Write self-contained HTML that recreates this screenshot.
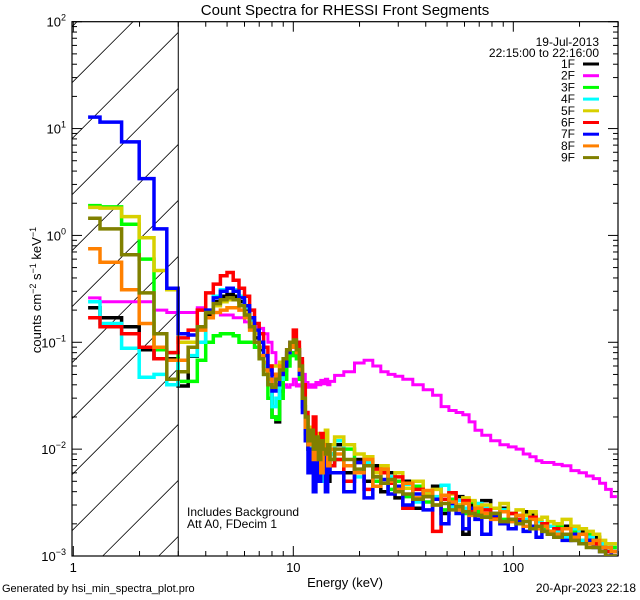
<!DOCTYPE html>
<html><head><meta charset="utf-8"><style>
html,body{margin:0;padding:0;background:#fff;width:640px;height:600px;overflow:hidden}
svg{display:block;font-family:"Liberation Sans",sans-serif}
</style></head><body>
<svg id="chart" width="640" height="600" viewBox="0 0 640 600">
<text x="345" y="15" font-size="15" text-anchor="middle">Count Spectra for RHESSI Front Segments</text>
<g id="hatch"></g>
<g id="axes"></g>
<g id="series"></g>
<g id="legend"></g>
<text x="599" y="46" font-size="12" text-anchor="end">19-Jul-2013</text>
<text x="599" y="57" font-size="12" text-anchor="end">22:15:00 to 22:16:00</text>
<text x="187" y="516" font-size="12">Includes Background</text>
<text x="187" y="528" font-size="12">Att A0, FDecim 1</text>
<text x="345" y="587" font-size="13" text-anchor="middle">Energy (keV)</text>
<text transform="translate(41,290) rotate(-90)" font-size="13" text-anchor="middle">counts cm<tspan font-size="9" dy="-5">−2</tspan><tspan dy="5"> s</tspan><tspan font-size="9" dy="-5">−1</tspan><tspan dy="5"> keV</tspan><tspan font-size="9" dy="-5">−1</tspan></text>
<text x="2" y="592" font-size="11">Generated by hsi_min_spectra_plot.pro</text>
<text x="636" y="592" font-size="12" text-anchor="end">20-Apr-2023 22:18</text>
</svg>
<script>
const energies=[1.167,1.5,1.833,2.167,2.5,2.833,3.167,3.5,3.833,4.167,4.5,4.833,5.167,5.5,5.833,6.167,6.5,6.833,7.167,7.5,7.833,8.167,8.5,8.833,9.167,9.5,9.833,10.17,10.5,10.83,11.17,11.5,11.83,12.17,12.5,12.83,13.17,13.5,13.83,14.17,14.5,14.83,
16,18,20,22,24,26,28,30,33,37,41,45,49,53,57,61,65,69,75,83,91,99,107,115,123,131,139,147,159,175,191,207,223,239,255,271,287];
const seriesNames=["1F","2F","3F","4F","5F","6F","7F","8F","9F"];
const s1F=[0.21,0.17,0.14,0.085,0.07,0.07,
0.039,0.074,0.1,0.18,0.24,0.27,0.28,0.27,0.24,0.2,0.15,0.11,0.085,0.06,0.04,0.02,0.018,0.035,0.055,0.075,0.09,0.1,0.085,0.05,0.025,0.014,0.01,0.012,0.007,0.009,0.013,0.006,0.008,0.011,0.005,0.007,
0.011,0.006,0.008,0.005,0.007,0.004,0.006,0.0035,0.005,0.0028,0.004,0.0045,0.0025,0.0034,0.0036,0.0016,0.003,0.0024,0.0033,0.0025,0.0028,0.0022,0.0021,0.0026,0.0024,0.0018,0.002,0.0017,0.0016,0.0019,0.0014,0.0017,0.0013,0.0015,0.0012,0.0011,0.001];
const s2F=[0.26,0.24,0.24,0.24,0.2,0.19,
0.19,0.19,0.21,0.2,0.19,0.18,0.18,0.17,0.17,0.155,0.15,0.14,0.135,0.12,0.1,0.08,0.06,0.05,0.04,0.038,0.04,0.045,0.039,0.04,0.05,0.042,0.038,0.04,0.038,0.042,0.04,0.044,0.041,0.045,0.04,0.043,
0.049,0.053,0.064,0.068,0.06,0.053,0.05,0.048,0.045,0.04,0.036,0.032,0.025,0.023,0.022,0.021,0.018,0.015,0.0135,0.012,0.011,0.0105,0.01,0.009,0.0085,0.0078,0.0075,0.0075,0.0072,0.007,0.0063,0.006,0.0056,0.0053,0.0048,0.0042,0.0036];
const s3F=[1.9,1.85,1.27,0.6,0.085,0.08,
0.043,0.043,0.068,0.1,0.115,0.12,0.12,0.115,0.1,0.1,0.1,0.09,0.07,0.05,0.03,0.02,0.019,0.03,0.045,0.06,0.075,0.08,0.07,0.045,0.025,0.014,0.01,0.012,0.008,0.011,0.009,0.007,0.01,0.008,0.006,0.009,
0.008,0.01,0.006,0.0075,0.005,0.0065,0.0042,0.005,0.0036,0.0045,0.0032,0.0035,0.0027,0.0034,0.003,0.0025,0.0032,0.0026,0.0024,0.0028,0.0022,0.0025,0.002,0.0024,0.0019,0.0021,0.0018,0.0017,0.0019,0.0015,0.0017,0.0014,0.0016,0.0013,0.0012,0.0011,0.0012];
const s4F=[0.24,0.15,0.088,0.047,0.05,0.04,
0.068,0.075,0.1,0.2,0.27,0.31,0.32,0.31,0.27,0.21,0.16,0.12,0.09,0.06,0.04,0.025,0.03,0.045,0.06,0.08,0.09,0.095,0.08,0.05,0.025,0.015,0.012,0.008,0.014,0.007,0.01,0.005,0.012,0.008,0.006,0.009,
0.012,0.007,0.0055,0.0075,0.0045,0.006,0.0055,0.004,0.0047,0.0032,0.004,0.0036,0.0046,0.0029,0.0033,0.0028,0.0025,0.0031,0.0028,0.0023,0.0027,0.0021,0.0024,0.0022,0.0019,0.0021,0.0017,0.0019,0.0017,0.0015,0.0018,0.0014,0.0015,0.0013,0.0013,0.0012,0.0011];
const s5F=[1.83,1.8,1.5,0.95,0.47,0.31,
0.1,0.1,0.14,0.19,0.22,0.24,0.25,0.25,0.22,0.19,0.15,0.12,0.09,0.065,0.05,0.06,0.06,0.065,0.07,0.08,0.095,0.1,0.09,0.065,0.04,0.02,0.015,0.016,0.009,0.014,0.01,0.012,0.007,0.015,0.009,0.011,
0.013,0.011,0.009,0.0085,0.006,0.007,0.0052,0.006,0.0043,0.005,0.0038,0.0042,0.0034,0.0038,0.003,0.0035,0.0033,0.0029,0.003,0.0028,0.0031,0.0025,0.0027,0.0024,0.0026,0.0022,0.0023,0.0021,0.002,0.0022,0.0019,0.0018,0.0017,0.0016,0.0014,0.0013,0.0013];
const s6F=[0.17,0.14,0.12,0.09,0.07,0.08,
0.11,0.13,0.2,0.29,0.35,0.42,0.45,0.38,0.32,0.27,0.2,0.15,0.12,0.09,0.06,0.05,0.045,0.05,0.06,0.085,0.1,0.13,0.1,0.07,0.04,0.022,0.015,0.012,0.02,0.01,0.008,0.014,0.009,0.006,0.01,0.007,
0.008,0.005,0.0075,0.0042,0.0065,0.006,0.0048,0.0055,0.0028,0.0042,0.0036,0.0017,0.0034,0.0039,0.0028,0.0033,0.0026,0.0024,0.0027,0.0023,0.0021,0.0025,0.0022,0.0019,0.0023,0.0018,0.002,0.0016,0.0018,0.0016,0.0015,0.0016,0.0014,0.0013,0.0012,0.0011,0.0011];
const s7F=[12.8,11.5,7.5,3.4,1.15,0.32,
0.12,0.117,0.14,0.2,0.26,0.3,0.32,0.3,0.26,0.22,0.17,0.13,0.1,0.075,0.055,0.035,0.04,0.05,0.06,0.08,0.1,0.1,0.08,0.05,0.022,0.012,0.006,0.01,0.004,0.012,0.005,0.008,0.01,0.004,0.007,0.006,
0.006,0.004,0.0075,0.0035,0.0055,0.0052,0.0038,0.0045,0.003,0.0038,0.0027,0.0034,0.002,0.0031,0.0025,0.0018,0.0028,0.0022,0.0016,0.0024,0.002,0.0018,0.0021,0.0017,0.0019,0.0015,0.0017,0.0016,0.0015,0.0014,0.0016,0.0013,0.0014,0.0012,0.0011,0.001,0.0011];
const s8F=[0.75,0.56,0.31,0.15,0.09,0.068,
0.068,0.09,0.13,0.17,0.19,0.2,0.21,0.21,0.2,0.17,0.13,0.1,0.075,0.055,0.045,0.04,0.05,0.06,0.07,0.085,0.095,0.09,0.08,0.055,0.03,0.016,0.011,0.014,0.008,0.012,0.01,0.006,0.011,0.009,0.007,0.01,
0.009,0.007,0.006,0.008,0.0045,0.0065,0.005,0.0042,0.0048,0.0035,0.0041,0.003,0.0037,0.0032,0.0027,0.0031,0.0024,0.0028,0.0025,0.0022,0.0026,0.0021,0.0024,0.0019,0.0022,0.0018,0.0019,0.0017,0.0016,0.0018,0.0015,0.0016,0.0013,0.0014,0.0012,0.0012,0.0011];
const s9F=[1.45,1.15,0.66,0.29,0.12,0.045,
0.053,0.09,0.14,0.19,0.23,0.25,0.26,0.25,0.22,0.18,0.14,0.1,0.07,0.05,0.04,0.038,0.045,0.055,0.07,0.085,0.1,0.105,0.085,0.06,0.03,0.02,0.012,0.015,0.01,0.013,0.008,0.012,0.01,0.009,0.011,0.008,
0.01,0.008,0.0065,0.007,0.0055,0.0048,0.0052,0.004,0.0038,0.0034,0.0036,0.003,0.0031,0.0027,0.0029,0.0026,0.0025,0.0024,0.0023,0.0025,0.0021,0.0022,0.002,0.0021,0.0018,0.0019,0.0017,0.0016,0.0015,0.0016,0.0014,0.0013,0.0012,0.0012,0.0011,0.001,0.001];
const seriesValues=[s1F,s2F,s3F,s4F,s5F,s6F,s7F,s8F,s9F];
const seriesColors=["#000000","#ff00ff","#00ff00","#00ffff","#d8d000","#ff0000","#0000ff","#ff8000","#808000"];
const xTickLabels=["1","10","100"];
const xTickValues=[1,10,100];
const yTickExps=[2,1,0,-1,-2,-3];
const thresholdEnergy=3;

const NS="http://www.w3.org/2000/svg";
const L=72,R=618,T=21.7,B=556;
const X0=293.3,XD=220,YD=(B-T)/5;
function xs(e){return X0+XD*(Math.log10(e)-1);}
function ys(v){return T+YD*(2-Math.log10(v));}
function mk(tag,attrs,parent){const el=document.createElementNS(NS,tag);for(const k in attrs)el.setAttribute(k,attrs[k]);parent.appendChild(el);return el;}

const svg=document.getElementById('chart');
const defs=mk('defs',{},svg);
const cp=mk('clipPath',{id:'plotclip'},defs);
mk('rect',{x:L,y:T,width:R-L,height:B-T},cp);

const hatch=document.getElementById('hatch');
const XT=xs(thresholdEnergy);
for(let c=250.7-56*6;c<B+(XT-L);c+=56){
  // line: y = c - (x - L), clipped to [L,XT] x [T,B]
  let x1=L,y1=c;
  if(y1>B){x1=L+(c-B);y1=B;}
  let x2=XT,y2=c-(XT-L);
  if(y2<T){x2=L+(c-T);y2=T;}
  if(x2<=x1)continue;
  const ln=mk('line',{x1:x1,y1:y1,x2:x2,y2:y2,stroke:'#000','stroke-width':0.8},hatch);
  
  
}
const th=mk('line',{x1:XT,y1:T,x2:XT,y2:B,stroke:'#000','stroke-width':1},svg);



const ax=document.getElementById('axes');
const box=mk('rect',{x:L,y:T,width:R-L,height:B-T,fill:'none',stroke:'#000','stroke-width':1.2},ax);


for(let d=1;d<=100;d*=10){for(let m=1;m<=9;m++){const e=d*m;const x=xs(e);if(x<L-0.5||x>R+0.5)continue;
  const len=m===1?10:5;
  mk('line',{x1:x,y1:B,x2:x,y2:B-len,stroke:'#000'},ax);
  mk('line',{x1:x,y1:T,x2:x,y2:T+len,stroke:'#000'},ax);}}
xTickValues.forEach((v,i)=>{const t=mk('text',{x:xs(v),y:572,'font-size':13,'text-anchor':'middle'},ax);t.textContent=xTickLabels[i];
  
  });
for(let p=-3;p<=2;p++){for(let m=1;m<=9;m++){const v=Math.pow(10,p)*m;const y=ys(v);if(y<T-0.5)continue;
  const len=m===1?10:5;
  mk('line',{x1:L,y1:y,x2:L+len,y2:y,stroke:'#000'},ax);
  mk('line',{x1:R,y1:y,x2:R-len,y2:y,stroke:'#000'},ax);}}
yTickExps.forEach(p=>{const t=mk('text',{x:66,y:ys(Math.pow(10,p))+5,'font-size':13,'text-anchor':'end'},ax);
  t.textContent='10';
  const s=mk('tspan',{'font-size':9,dy:-6},t);s.textContent=p<0?'−'+(-p):String(p);
  
  });

const sg=document.getElementById('series');
sg.setAttribute('clip-path','url(#plotclip)');
seriesValues.forEach((vals,si)=>{
  let d='';
  for(let i=0;i<energies.length;i++){
    const lo=i===0?energies[0]:Math.sqrt(energies[i-1]*energies[i]);
    const hi=i===energies.length-1?energies[i]*1.03:Math.sqrt(energies[i]*energies[i+1]);
    const y=Math.min(ys(vals[i]),B+3).toFixed(1);
    d+=(i===0?'M':'L')+xs(lo).toFixed(1)+','+y+'L'+Math.min(xs(hi),R).toFixed(1)+','+y;
  }
  const p=mk('path',{d:d,fill:'none',stroke:seriesColors[si],'stroke-width':si===1?3:3.5,'stroke-linejoin':'miter'},sg);
  
  
});

const lg=document.getElementById('legend');
seriesNames.forEach((n,i)=>{const y=68+i*11.7;
  const t=mk('text',{x:575,y:y,'font-size':12,'text-anchor':'end'},lg);t.textContent=n;
  
  
  const l=mk('line',{x1:583,y1:y-4,x2:599,y2:y-4,stroke:seriesColors[i],'stroke-width':3},lg);
  
  });
</script>
</body></html>
